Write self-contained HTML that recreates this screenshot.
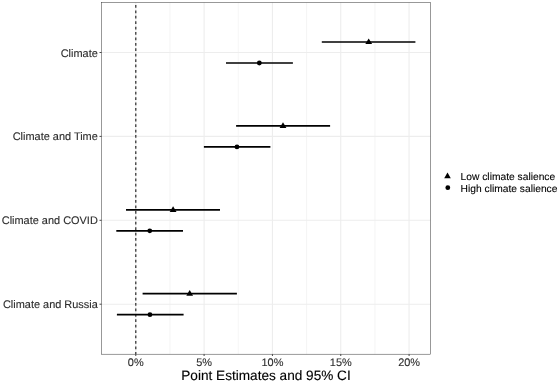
<!DOCTYPE html>
<html><head><meta charset="utf-8"><title>Point Estimates and 95% CI</title>
<style>
html,body{margin:0;padding:0;background:#fff}
svg{display:block}
text{font-family:"Liberation Sans",Arial,sans-serif;text-rendering:geometricPrecision}
</style></head><body>
<svg width="560" height="383" viewBox="0 0 560 383">
<rect width="560" height="383" fill="#fff"/>
<g>
<g stroke="#ebebeb" stroke-width="0.5" fill="none">
<line x1="169.94" y1="2.5" x2="169.94" y2="354.2"/>
<line x1="238.27" y1="2.5" x2="238.27" y2="354.2"/>
<line x1="306.59" y1="2.5" x2="306.59" y2="354.2"/>
<line x1="374.92" y1="2.5" x2="374.92" y2="354.2"/>
</g>
<g stroke="#ededed" stroke-width="1.1" fill="none">
<line x1="135.78" y1="2.5" x2="135.78" y2="354.2"/>
<line x1="204.10" y1="2.5" x2="204.10" y2="354.2"/>
<line x1="272.43" y1="2.5" x2="272.43" y2="354.2"/>
<line x1="340.75" y1="2.5" x2="340.75" y2="354.2"/>
<line x1="409.08" y1="2.5" x2="409.08" y2="354.2"/>
<line x1="101.5" y1="52.50" x2="430.5" y2="52.50"/>
<line x1="101.5" y1="136.40" x2="430.5" y2="136.40"/>
<line x1="101.5" y1="220.30" x2="430.5" y2="220.30"/>
<line x1="101.5" y1="304.20" x2="430.5" y2="304.20"/>
</g>
<line x1="135.78" y1="2.5" x2="135.78" y2="354.2" stroke="#333" stroke-width="1.25" stroke-dasharray="2.75 2.67" stroke-dashoffset="2.92"/>
<g stroke="#000" stroke-width="1.7" fill="none">
<line x1="321.8" y1="42.00" x2="415.4" y2="42.00"/>
<line x1="226" y1="63.00" x2="292.9" y2="63.00"/>
<line x1="236.1" y1="125.90" x2="330.1" y2="125.90"/>
<line x1="203.9" y1="146.90" x2="270.4" y2="146.90"/>
<line x1="126" y1="209.80" x2="220" y2="209.80"/>
<line x1="116.3" y1="230.80" x2="183" y2="230.80"/>
<line x1="142.6" y1="293.70" x2="236.9" y2="293.70"/>
<line x1="116.9" y1="314.70" x2="183.6" y2="314.70"/>
</g>
<g fill="#000">
<path d="M365.30 44.10L372.10 44.10L368.70 38.40Z"/>
<circle cx="259.33" cy="63.00" r="2.4"/>
<path d="M279.60 128.00L286.40 128.00L283.00 122.30Z"/>
<circle cx="236.97" cy="146.90" r="2.4"/>
<path d="M169.70 211.90L176.50 211.90L173.10 206.20Z"/>
<circle cx="149.77" cy="230.80" r="2.4"/>
<path d="M186.30 295.80L193.10 295.80L189.70 290.10Z"/>
<circle cx="149.95" cy="314.70" r="2.4"/>
</g>
<rect x="101.5" y="2.5" width="329.00" height="351.70" fill="none" stroke="#333" stroke-width="0.5"/>
<g stroke="#333" stroke-width="0.9">
<line x1="99.5" y1="52.50" x2="101.5" y2="52.50"/>
<line x1="99.5" y1="136.40" x2="101.5" y2="136.40"/>
<line x1="99.5" y1="220.30" x2="101.5" y2="220.30"/>
<line x1="99.5" y1="304.20" x2="101.5" y2="304.20"/>
<line x1="135.78" y1="354.2" x2="135.78" y2="356.0"/>
<line x1="204.10" y1="354.2" x2="204.10" y2="356.0"/>
<line x1="272.43" y1="354.2" x2="272.43" y2="356.0"/>
<line x1="340.75" y1="354.2" x2="340.75" y2="356.0"/>
<line x1="409.08" y1="354.2" x2="409.08" y2="356.0"/>
</g>
<g font-size="10.95" fill="#2e2e2e" stroke="#2e2e2e" stroke-width="0.12" text-anchor="end">
<text x="97.8" y="56.50">Climate</text>
<text x="97.8" y="140.40">Climate and Time</text>
<text x="97.8" y="224.30">Climate and COVID</text>
<text x="97.8" y="308.20">Climate and Russia</text>
</g>
<g font-size="10.95" fill="#2e2e2e" stroke="#2e2e2e" stroke-width="0.12" text-anchor="middle">
<text x="135.78" y="366">0%</text>
<text x="204.10" y="366">5%</text>
<text x="272.43" y="366">10%</text>
<text x="340.75" y="366">15%</text>
<text x="409.08" y="366">20%</text>
</g>
<text x="266.0" y="379.5" font-size="13.62" fill="#000" stroke="#000" stroke-width="0.12" text-anchor="middle">Point Estimates and 95% CI</text>
<g font-size="10.25" fill="#000" stroke="#000" stroke-width="0.1">
<text x="460.6" y="179.6">Low climate salience</text>
<text x="460.6" y="192.0">High climate salience</text>
</g>
<path d="M444.2 178.2L450.8 178.2L447.5 172.5Z" fill="#000"/>
<circle cx="447.8" cy="187.7" r="2.4" fill="#000"/>
</g>
</svg>
</body></html>
